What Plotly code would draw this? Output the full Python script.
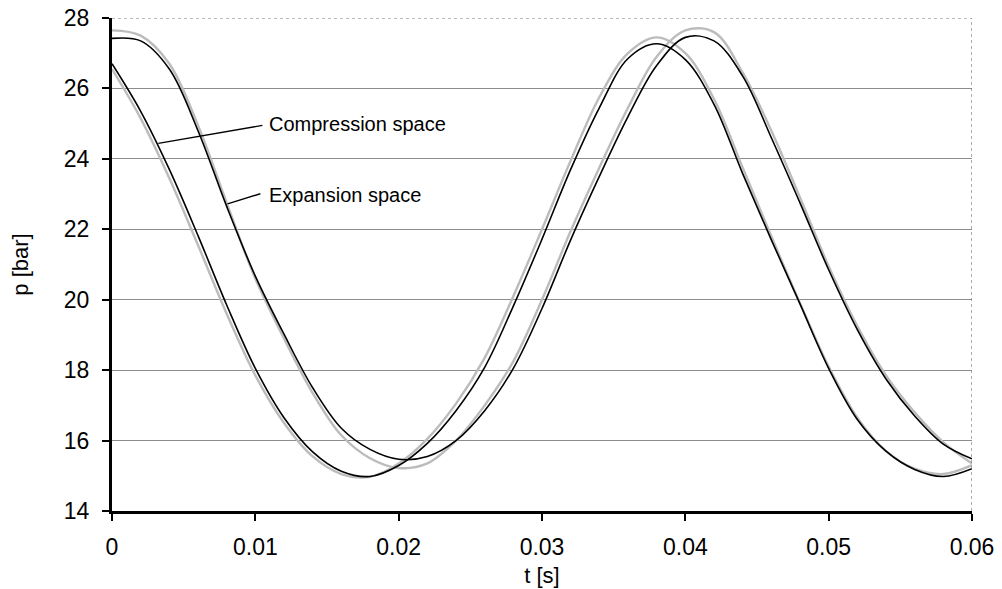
import plotly.graph_objects as go

# Sample times [s]
t = [0.000, 0.002, 0.004, 0.006, 0.008, 0.010, 0.012, 0.014, 0.016, 0.018,
     0.020, 0.022, 0.024, 0.026, 0.028, 0.030, 0.032, 0.034, 0.036, 0.038,
     0.040, 0.042, 0.044, 0.046, 0.048, 0.050, 0.052, 0.054, 0.056, 0.058,
     0.060]

# Simulated pressures [bar] (black)
p_comp = [26.70, 25.35, 23.70, 21.82, 19.85, 18.05, 16.65, 15.68, 15.13, 14.98,
          15.29, 15.92, 16.85, 18.08, 19.82, 21.72, 23.70, 25.45, 26.85, 27.27,
          26.82, 25.55, 23.58, 21.70, 19.88, 18.05, 16.60, 15.70, 15.18, 14.98,
          15.20]
p_exp = [27.42, 27.35, 26.55, 24.80, 22.65, 20.67, 19.02, 17.50, 16.35, 15.75,
         15.47, 15.55, 16.00, 16.85, 18.05, 19.75, 21.70, 23.50, 25.20, 26.65,
         27.45, 27.35, 26.35, 24.60, 22.75, 20.85, 19.15, 17.75, 16.70, 15.90,
         15.48]

# Measured pressures [bar] (grey)
p_comp_meas = [26.55, 25.15, 23.45, 21.55, 19.60, 17.85, 16.50, 15.55, 15.05, 14.97,
               15.35, 16.05, 17.05, 18.35, 20.10, 22.00, 23.95, 25.75, 27.00, 27.45,
               27.00, 25.70, 23.75, 21.80, 19.90, 18.10, 16.65, 15.70, 15.20, 15.05,
               15.30]
p_exp_meas = [27.65, 27.50, 26.70, 24.95, 22.75, 20.60, 18.90, 17.35, 16.15, 15.50,
              15.22, 15.35, 16.00, 17.00, 18.25, 20.00, 21.95, 23.75, 25.45, 26.90,
              27.65, 27.60, 26.45, 24.80, 22.90, 20.95, 19.25, 17.85, 16.80, 15.95,
              15.35]

x_ticks = [0, 0.01, 0.02, 0.03, 0.04, 0.05, 0.06]
x_tick_text = ["0", "0.01", "0.02", "0.03", "0.04", "0.05", "0.06"]
y_ticks = [14, 16, 18, 20, 22, 24, 26, 28]

FONT = "Liberation Sans, Arial, sans-serif"

fig = go.Figure()

for pp in (p_comp_meas, p_exp_meas):
    fig.add_trace(go.Scatter(x=t, y=pp, mode="lines",
                             line=dict(color="#bcbcbc", width=2.4, shape="spline", smoothing=1.0),
                             showlegend=False, hoverinfo="skip"))

for pp in (p_comp, p_exp):
    fig.add_trace(go.Scatter(x=t, y=pp, mode="lines",
                             line=dict(color="black", width=1.6, shape="spline", smoothing=1.0),
                             showlegend=False, hoverinfo="skip"))

# Leader lines to the curve labels
leaders = [
    ("Compression space", (0.00323, 24.44), (0.01049, 24.95), 24.98),
    ("Expansion space", (0.00806, 22.72), (0.01035, 23.01), 22.96),
]
for text, (x0, y0), (x1, y1), ytxt in leaders:
    fig.add_shape(type="line", x0=x0, y0=y0, x1=x1, y1=y1, xref="x", yref="y",
                  line=dict(color="black", width=1.4))
    fig.add_annotation(x=0.01083, y=ytxt, text=text, showarrow=False,
                       xanchor="left", yanchor="middle",
                       font=dict(family=FONT, size=20, color="black"))

# Dotted frame on top and right
fig.add_shape(type="line", x0=0, x1=0.06, y0=28, y1=28, xref="x", yref="y",
              line=dict(color="#777777", width=1.2, dash="dot"))
fig.add_shape(type="line", x0=0.06, x1=0.06, y0=14, y1=28, xref="x", yref="y",
              line=dict(color="#777777", width=1.2, dash="dot"))

fig.update_xaxes(range=[0, 0.06], tickvals=x_ticks, ticktext=x_tick_text,
                 automargin=False,
                 showgrid=False, zeroline=False,
                 showline=True, linecolor="black", linewidth=3,
                 ticks="outside", ticklen=7, tickwidth=2, tickcolor="black",
                 ticklabelstandoff=6,
                 tickfont=dict(family=FONT, size=23, color="black"),
                 title=dict(text="t [s]", font=dict(family=FONT, size=22, color="black"),
                            standoff=10))
fig.update_yaxes(range=[14, 28], tickvals=y_ticks,
                 automargin=False,
                 showgrid=True, gridcolor="#8c8c8c", gridwidth=1, zeroline=False,
                 showline=True, linecolor="black", linewidth=3,
                 ticks="outside", ticklen=7, tickwidth=2, tickcolor="black",
                 ticklabelstandoff=8,
                 tickfont=dict(family=FONT, size=23, color="black"),
                 title=dict(text="p [bar]", font=dict(family=FONT, size=22, color="black"),
                            standoff=30))

fig.update_layout(width=1002, height=589,
                  margin=dict(l=112, r=30, t=18, b=78),
                  plot_bgcolor="white", paper_bgcolor="white")

fig.write_html("out.html")
